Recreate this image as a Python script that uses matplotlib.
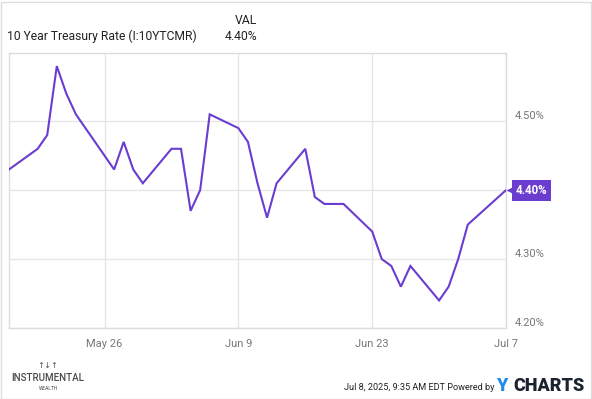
import matplotlib
matplotlib.use("Agg")
import matplotlib.pyplot as plt
import matplotlib.dates as mdates
import matplotlib.transforms as mtransforms
from matplotlib.patches import Rectangle
import pandas as pd

# 10 Year Treasury Rate, daily closes (%)
dates = ["2025-05-16", "2025-05-19", "2025-05-20", "2025-05-21", "2025-05-22", "2025-05-23",
         "2025-05-27", "2025-05-28", "2025-05-29", "2025-05-30",
         "2025-06-02", "2025-06-03", "2025-06-04", "2025-06-05", "2025-06-06",
         "2025-06-09", "2025-06-10", "2025-06-11", "2025-06-12", "2025-06-13",
         "2025-06-16", "2025-06-17", "2025-06-18", "2025-06-20",
         "2025-06-23", "2025-06-24", "2025-06-25", "2025-06-26", "2025-06-27",
         "2025-06-30", "2025-07-01", "2025-07-02", "2025-07-03", "2025-07-07"]
rates = [4.43, 4.46, 4.48, 4.58, 4.54, 4.51,
         4.43, 4.47, 4.43, 4.41,
         4.46, 4.46, 4.37, 4.40, 4.51,
         4.49, 4.47, 4.41, 4.36, 4.41,
         4.46, 4.39, 4.38, 4.38,
         4.34, 4.30, 4.29, 4.26, 4.29,
         4.24, 4.26, 4.30, 4.35, 4.40]
x_ticks = ["2025-05-26", "2025-06-09", "2025-06-23", "2025-07-07"]
y_ticks = [4.20, 4.30, 4.40, 4.50]

df = pd.DataFrame({"date": pd.to_datetime(dates), "rate": rates})
last_d, last_v = df["date"].iloc[-1], df["rate"].iloc[-1]

purple = "#6a3cd0"
grid_c = "#e6e6e6"
font = ["Roboto", "DejaVu Sans"]

fig = plt.figure(figsize=(5.92, 3.99), dpi=100)
W, H = 592, 399
ax = fig.add_axes([9 / W, (H - 328) / H, (506 - 9) / W, (328 - 53) / H])

ax.plot(df["date"], df["rate"], color=purple, lw=1.5, solid_joinstyle="miter", zorder=3)

ax.set_xlim(df["date"].iloc[0], last_d)
ax.set_ylim(4.20, 4.599)

ax.set_xticks(pd.to_datetime(x_ticks))
ax.xaxis.set_major_formatter(mdates.DateFormatter("%b %-d"))
ax.set_yticks(y_ticks)
# the 4.40% tick label sits behind the last-value tag
ax.set_yticklabels(["" if abs(v - last_v) < 0.005 else f"{v:.2f}%" for v in y_ticks])
ax.yaxis.tick_right()
ax.tick_params(axis="both", length=0, colors="#777777", labelsize=8)
ax.tick_params(axis="x", pad=8)
ax.tick_params(axis="y", pad=6)
for lab in ax.get_yticklabels():
    lab.set_va("bottom")
    lab.set_family(font)
for lab in ax.get_xticklabels():
    lab.set_family(font)

ax.grid(True, color=grid_c, lw=1)
ax.set_axisbelow(True)
for s in ax.spines.values():
    s.set_color("#dcdcdc")
    s.set_linewidth(1)

# last value tag
tri = mtransforms.offset_copy(ax.transData, fig=fig, x=4, y=0, units="points")
ax.plot([last_d], [last_v], marker="<", ms=8, color=purple, mec="none",
        transform=tri, clip_on=False, zorder=4)
ax.annotate(f"{last_v:.2f}%", xy=(last_d, last_v), xytext=(7, 0), textcoords="offset points",
            ha="left", va="center", color="white", fontsize=8.3, fontweight="bold",
            family=font,
            bbox=dict(boxstyle="square,pad=0.35", fc=purple, ec="none"),
            annotation_clip=False, zorder=6)

# header
fig.text(7 / W, 1 - 36 / H, "10 Year Treasury Rate (I:10YTCMR)", fontsize=8.7,
         family=font, color="#222222", va="center", ha="left")
fig.text(257 / W, 1 - 21 / H, "VAL", fontsize=8.7, family=font, color="#222222",
         va="center", ha="right")
fig.text(257 / W, 1 - 36 / H, f"{last_v:.2f}%", fontsize=8.7, family=font,
         color="#222222", va="center", ha="right")

# logo
fig.text(48 / W, 1 - 365 / H, "↑↓↑", fontsize=6, color="#555555", ha="center", va="center",
         family="DejaVu Sans")
fig.text(48 / W, 1 - 378 / H, "INSTRUMENTAL", fontsize=7, color="#4a4a4a", ha="center",
         va="center", family=font, fontweight="medium")
fig.text(48 / W, 1 - 388 / H, "WEALTH", fontsize=3.5, color="#4a4a4a", ha="center",
         va="center", family=font)

# footer
fig.text(494 / W, 1 - 387 / H, "Jul 8, 2025, 9:35 AM EDT Powered by", fontsize=6.6,
         family=font, color="#222222", ha="right", va="center")
fig.text(497 / W, 1 - 386 / H, "Y", fontsize=13, fontweight="heavy", color="#1e8ce8",
         family=font, ha="left", va="center")
fig.text(585 / W, 1 - 386 / H, "CHARTS", fontsize=13, fontweight="heavy", color="#1b2330",
         family=font, ha="right", va="center")

# outer frame
fig.patches.append(Rectangle((0.5 / W, 0.5 / H), (W - 2) / W, (H - 2) / H,
                             transform=fig.transFigure, fill=False, ec="#dddddd", lw=1))

fig.savefig("out.png", dpi=100, facecolor="white")
